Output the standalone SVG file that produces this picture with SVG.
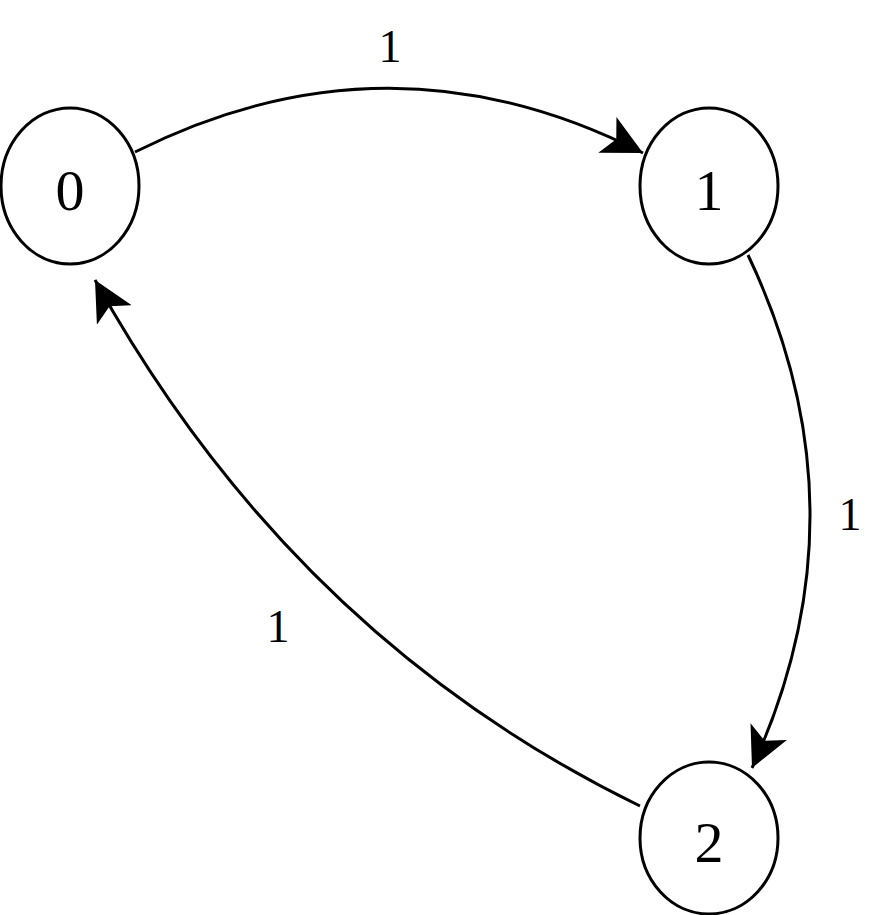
<svg xmlns="http://www.w3.org/2000/svg" width="893" height="915" viewBox="0 0 893 915">
<style>
.n{fill:#fff;stroke:#000;stroke-width:3}
.t{font-family:"Liberation Serif",serif;font-size:58px;text-anchor:middle}
.l{font-family:"Liberation Serif",serif;font-size:46px;text-anchor:middle}
.e{fill:none;stroke:#000;stroke-width:3;marker-end:url(#a)}
</style>
<defs><marker id="a" markerUnits="userSpaceOnUse" markerWidth="44" markerHeight="40" refX="40" refY="20" orient="auto"><path d="M0,0 L40,20 L0,40 L10,20 Z" fill="#000"/></marker></defs>
<rect width="893" height="915" fill="#fff"/>
<g id="edges">
<path class="e" d="M135,152 Q390,24 643,153"/>
<path class="e" d="M748,255 Q870,511 752,768"/>
<path class="e" d="M640,806 Q293,637 95,280"/>
<text class="l" x="390" y="62">1</text>
<text class="l" x="850" y="530">1</text>
<text class="l" x="278" y="642">1</text>
</g>
<g id="n0"><ellipse class="n" cx="70" cy="186" rx="69" ry="78"/><text class="t" x="70" y="210">0</text></g>
<g id="n1"><ellipse class="n" cx="709" cy="186" rx="69" ry="78"/><text class="t" x="709" y="210">1</text></g>
<g id="n2"><ellipse class="n" cx="709" cy="838" rx="69" ry="76"/><text class="t" x="709" y="862">2</text></g>
</svg>
